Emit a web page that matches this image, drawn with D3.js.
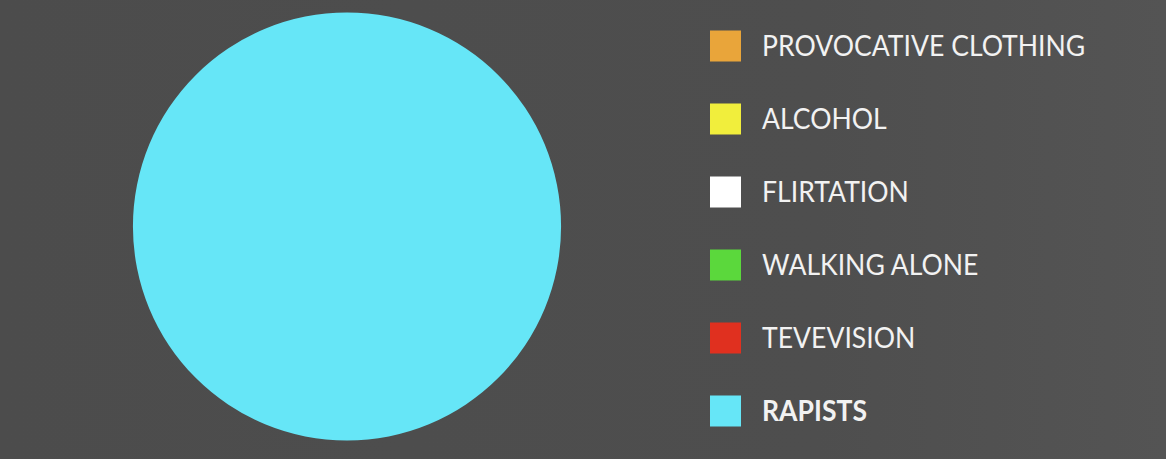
<!DOCTYPE html>
<html><head><meta charset="utf-8">
<script src="https://cdn.jsdelivr.net/npm/d3@7"></script>
<style>html,body{margin:0;padding:0;background:#4e4e4e;}svg{display:block;}</style>
</head><body>
<svg id="c" width="1166" height="459"></svg>
<script>
const categories = ["PROVOCATIVE CLOTHING","ALCOHOL","FLIRTATION","WALKING ALONE","TEVEVISION","RAPISTS"];
const values = [0,0,0,0,0,100];
const colors = ["#e9a53a","#f1ee3c","#ffffff","#5bd83c","#e0301f","#66e6f7"];

const W = 1166, H = 459;
const svg = d3.select("#c");
const bg = svg.append("defs").append("linearGradient").attr("id","bg").attr("x1",0).attr("x2",1).attr("y1",0).attr("y2",0);
bg.append("stop").attr("offset","0%").attr("stop-color","#4c4c4c");
bg.append("stop").attr("offset","70%").attr("stop-color","#4e4e4e");
bg.append("stop").attr("offset","100%").attr("stop-color","#545454");
svg.append("rect").attr("width",W).attr("height",H).attr("fill","url(#bg)");

const data = categories.map((c,i)=>({cat:c,value:values[i],color:colors[i]}));
const pie = d3.pie().value(d=>d.value).sort(null);
const arc = d3.arc().innerRadius(0).outerRadius(214);
svg.append("g").attr("transform","translate(347,226.5)")
  .selectAll("path").data(pie(data).filter(d=>d.data.value>0)).join("path")
  .attr("d",arc).attr("fill",d=>d.data.color);

const y = d3.scalePoint().domain(categories).range([46,411]);
const lg = svg.append("g");
const item = lg.selectAll("g").data(data).join("g")
  .attr("transform",d=>`translate(710,${y(d.cat)})`);
item.append("rect").attr("x",0).attr("y",-15.5).attr("width",31).attr("height",31)
  .attr("fill",d=>d.color);
item.append("text")
  .attr("transform","translate(52,10) scale(0.95,1)")
  .attr("font-family","Lato, 'Open Sans', sans-serif")
  .attr("font-size",28)
  .attr("font-weight",d=>d.cat==="RAPISTS"?"bold":"normal")
  .attr("fill","#f2f2f2")
  .text(d=>d.cat);
</script>
</body></html>
